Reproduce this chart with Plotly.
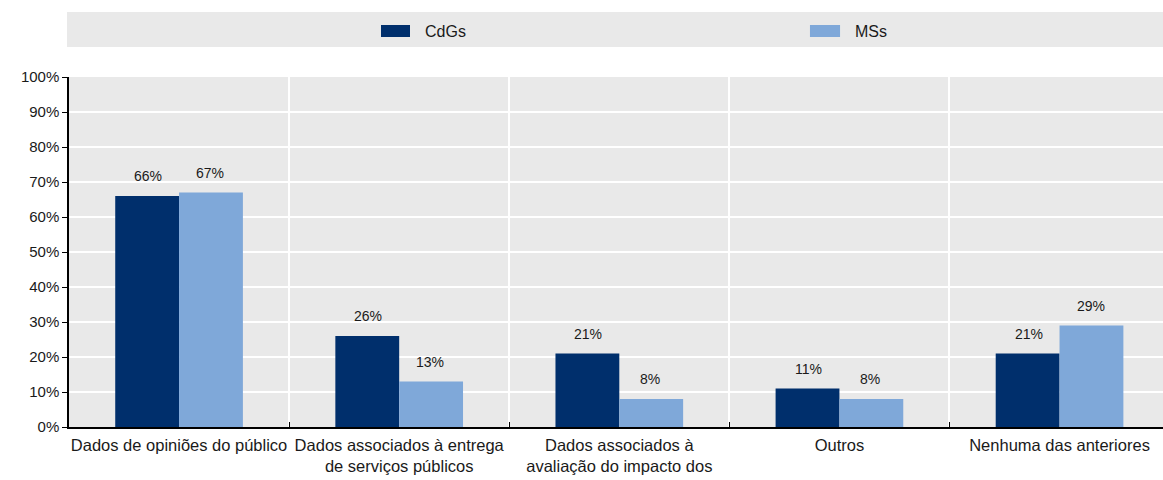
import plotly.graph_objects as go

categories = [
    "Dados de opiniões do público",
    "Dados associados à entrega<br>de serviços públicos",
    "Dados associados à<br>avaliação do impacto dos<br>serviços",
    "Outros",
    "Nenhuma das anteriores",
]
cdgs = [66, 26, 21, 11, 21]
mss = [67, 13, 8, 8, 29]
series_names = ["CdGs", "MSs"]
y_ticks = [0, 10, 20, 30, 40, 50, 60, 70, 80, 90, 100]

DARK = "#002F6C"
LIGHT = "#7FA8D9"
PANEL = "#E9E9E9"
FONT = "Liberation Sans, Arial, sans-serif"

fig = go.Figure()
for name, vals, col in [(series_names[0], cdgs, DARK), (series_names[1], mss, LIGHT)]:
    fig.add_trace(go.Bar(
        x=categories, y=vals, name=name, marker_color=col,
        marker_line_width=0, showlegend=False,
    ))

# value labels above each bar
for i, vals in enumerate([cdgs, mss]):
    shift = -31 if i == 0 else 31
    for c, v in zip(categories, vals):
        fig.add_annotation(x=c, y=v, text=f"{v}%", showarrow=False,
                           xshift=shift, yshift=10, yanchor="bottom",
                           font=dict(size=14, color="#1a1a1a", family=FONT))

# legend band
fig.add_shape(type="rect", xref="paper", yref="paper", x0=-0.0018, x1=1.0,
              y0=1.0857, y1=1.1857, fillcolor=PANEL, line_width=0, layer="below")
for (x0, x1, tx, name, col) in [(0.2852, 0.3117, 0.3236, series_names[0], DARK),
                                (0.6773, 0.7048, 0.7168, series_names[1], LIGHT)]:
    fig.add_shape(type="rect", xref="paper", yref="paper", x0=x0, x1=x1,
                  y0=1.1143, y1=1.1486, fillcolor=col, line_width=0)
    fig.add_annotation(xref="paper", yref="paper", x=tx, y=1.1314, text=name,
                       showarrow=False, xanchor="left", yanchor="middle",
                       font=dict(size=16, color="#1a1a1a", family=FONT))

fig.update_layout(
    width=1163, height=480,
    margin=dict(l=69, r=0, t=77, b=53),
    paper_bgcolor="white", plot_bgcolor=PANEL,
    barmode="group", bargap=0.42, bargroupgap=0,
    font=dict(family=FONT, size=14, color="#1a1a1a"),
    xaxis=dict(
        type="category", range=[-0.5, 4.47], tickson="boundaries",
        automargin=False, tickangle=0, ticklabelstandoff=2,
        showgrid=True, gridcolor="white", gridwidth=1.5,
        ticks="inside", ticklen=5, tickcolor="#000",
        showline=True, linecolor="#000", linewidth=1.5,
        tickfont=dict(size=16.5, family=FONT, color="#1a1a1a"),
    ),
    yaxis=dict(
        range=[0, 100], tickvals=y_ticks, ticktext=[f"{t}%" for t in y_ticks],
        automargin=False,
        showgrid=True, gridcolor="white", gridwidth=1.5,
        ticks="outside", ticklen=5, tickcolor="#000",
        showline=True, linecolor="#000", linewidth=1.5,
        zeroline=False,
        tickfont=dict(size=15, family=FONT, color="#1a1a1a"),
    ),
)

fig.write_html("out.html")
